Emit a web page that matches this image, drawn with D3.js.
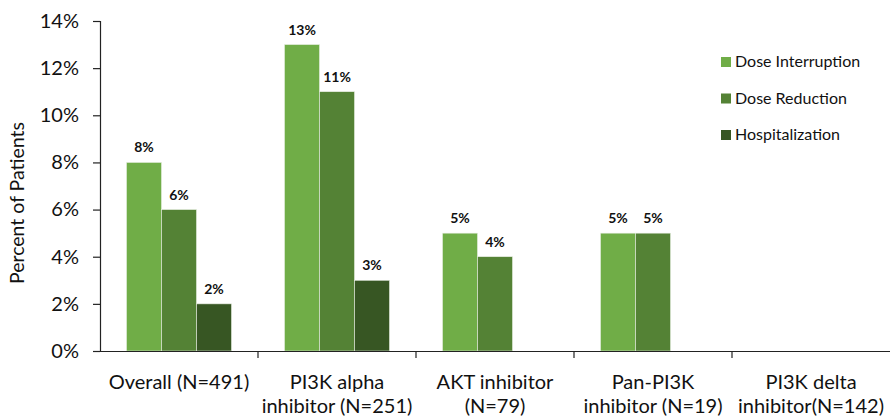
<!DOCTYPE html>
<html>
<head>
<meta charset="utf-8">
<script src="https://cdn.jsdelivr.net/npm/d3@7"></script>
<style>
  html, body { margin: 0; padding: 0; background: #fff; }
  svg { display: block; font-family: "Lato", "Open Sans", "Liberation Sans", sans-serif; }
</style>
</head>
<body>
<svg id="chart" width="890" height="418"></svg>
<script>
// Category labels, one entry per line of the axis label
const categories = [
  ["Overall (N=491)"],
  ["PI3K alpha", "inhibitor (N=251)"],
  ["AKT inhibitor", "(N=79)"],
  ["Pan-PI3K", "inhibitor (N=19)"],
  ["PI3K delta", "inhibitor(N=142)"]
];
const seriesNames = ["Dose Interruption", "Dose Reduction", "Hospitalization"];
const doseInterruption = [8, 13, 5, 5, null];
const doseReduction = [6, 11, 4, 5, null];
const hospitalization = [2, 3, null, null, null];
const yTicks = [0, 2, 4, 6, 8, 10, 12, 14];
const colors = ["#70AD47", "#548235", "#375623"];

const seriesValues = [doseInterruption, doseReduction, hospitalization];
const FONT = "Lato, 'Open Sans', sans-serif";

const svg = d3.select("#chart");
const margin = { left: 100, right: 0, top: 21, bottom: 67 };
const W = 890, H = 418;
const plotBottom = H - margin.bottom;

const x0 = d3.scaleBand()
  .domain(d3.range(categories.length))
  .range([margin.left, W - margin.right])
  .padding(0);

const x1 = d3.scaleBand()
  .domain(d3.range(seriesNames.length))
  .range([26.5, x0.bandwidth() - 26.5])
  .padding(0);

const y = d3.scaleLinear()
  .domain([0, 14])
  .range([plotBottom, margin.top]);

// Bars
const groups = svg.append("g")
  .selectAll("g")
  .data(categories.map((c, i) => i))
  .join("g")
  .attr("transform", i => `translate(${x0(i)},0)`);

const barData = i => seriesNames.map((s, k) => ({ k, v: seriesValues[k][i] }))
  .filter(d => d.v != null);

groups.selectAll("rect")
  .data(i => barData(i))
  .join("rect")
  .attr("x", d => x1(d.k))
  .attr("y", d => y(d.v))
  .attr("width", x1.bandwidth())
  .attr("height", d => plotBottom - y(d.v))
  .attr("fill", d => colors[d.k])
  .attr("stroke", "#e8eee3")
  .attr("stroke-width", 0.6);

groups.selectAll("text.val")
  .data(i => barData(i))
  .join("text")
  .attr("class", "val")
  .attr("x", d => x1(d.k) + x1.bandwidth() / 2)
  .attr("y", d => y(d.v) - 10)
  .attr("text-anchor", "middle")
  .attr("font-family", FONT)
  .attr("font-size", 14)
  .attr("font-weight", "bold")
  .attr("fill", "#111")
  .text(d => d.v + "%");

// Y axis
const yAxis = d3.axisLeft(y)
  .tickValues(yTicks)
  .tickFormat(d => d + "%")
  .tickSize(7)
  .tickPadding(14);

const gy = svg.append("g")
  .attr("transform", `translate(${margin.left},0)`)
  .call(yAxis);
gy.select(".domain").attr("stroke", "#222").attr("stroke-width", 1.2);
gy.selectAll(".tick line").attr("stroke", "#222").attr("stroke-width", 1.2);
gy.selectAll(".tick text")
  .attr("font-size", 20)
  .attr("fill", "#111")
  .attr("font-family", FONT);

// X axis line and band separators
const xAxis = d3.axisBottom(x0).tickSize(0).tickFormat("");
const gx = svg.append("g")
  .attr("transform", `translate(0,${plotBottom})`)
  .call(xAxis);
gx.select(".domain").attr("stroke", "#222").attr("stroke-width", 1.2);
gx.selectAll(".tick").remove();

const boundaries = d3.range(categories.length).map(i => x0(i)).concat([x0(categories.length - 1) + x0.bandwidth()]);
gx.selectAll("line.sep")
  .data(boundaries.slice(1, -1))
  .join("line")
  .attr("class", "sep")
  .attr("x1", d => d).attr("x2", d => d)
  .attr("y1", 0).attr("y2", 7)
  .attr("stroke", "#222").attr("stroke-width", 1.2);

// Category labels
const catLabels = svg.append("g")
  .selectAll("text")
  .data(categories)
  .join("text")
  .attr("x", (c, i) => x0(i) + x0.bandwidth() / 2)
  .attr("y", plotBottom + 38)
  .attr("text-anchor", "middle")
  .attr("font-family", FONT)
  .attr("font-size", 20)
  .attr("fill", "#111");
catLabels.selectAll("tspan")
  .data(c => c)
  .join("tspan")
  .attr("x", function () { return d3.select(this.parentNode).attr("x"); })
  .attr("dy", (d, j) => j === 0 ? 0 : 24)
  .text(d => d);

// Y axis title
svg.append("text")
  .attr("transform", `translate(24,${(plotBottom + margin.top) / 2 + 17}) rotate(-90)`)
  .attr("text-anchor", "middle")
  .attr("font-family", FONT)
  .attr("font-size", 19.5)
  .attr("fill", "#111")
  .text("Percent of Patients");

// Legend
const legend = svg.append("g")
  .attr("transform", "translate(721,57)");
const li = legend.selectAll("g")
  .data(seriesNames)
  .join("g")
  .attr("transform", (d, i) => `translate(0,${i * 36.5})`);
li.append("rect")
  .attr("width", 10).attr("height", 10)
  .attr("fill", (d, i) => colors[i]);
li.append("text")
  .attr("x", 14)
  .attr("y", 10)
  .attr("font-family", FONT)
  .attr("font-size", 16)
  .attr("fill", "#111")
  .text(d => d);
</script>
</body>
</html>
